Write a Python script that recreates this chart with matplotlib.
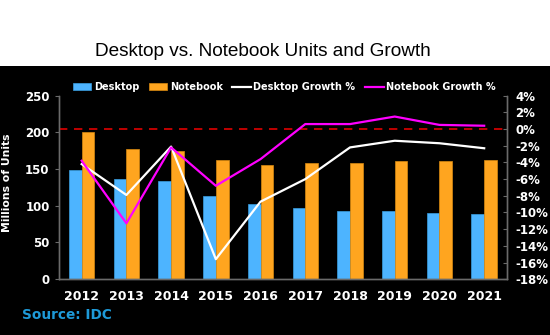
import matplotlib
matplotlib.use("Agg")
import matplotlib.pyplot as plt
import numpy as np
from matplotlib.patches import Rectangle
from matplotlib.ticker import FuncFormatter

years = ["2012", "2013", "2014", "2015", "2016", "2017", "2018", "2019", "2020", "2021"]
desktop_units = [149, 136.5, 134, 113, 103, 96.5, 93.5, 92.5, 90.5, 89]
notebook_units = [201, 178, 174, 162, 156, 158, 158.5, 160.5, 161.5, 162.5]
desktop_growth = [-4.2, -7.9, -2.1, -15.6, -8.7, -6.0, -2.2, -1.4, -1.7, -2.3]
notebook_growth = [-3.8, -11.3, -2.2, -6.8, -3.6, 0.6, 0.6, 1.5, 0.5, 0.4]

BLUE = "#4db4ff"
ORANGE = "#ffa51f"
MAGENTA = "#ff00ff"
AXIS = "#6a6a6a"

fig = plt.figure(figsize=(5.5, 3.35), dpi=100)
fig.patch.set_facecolor("white")
# black panel behind the chart, white strip above it for the title
fig.add_artist(Rectangle((0, 0), 1, 269 / 335, transform=fig.transFigure,
                         facecolor="black", edgecolor="none", zorder=-10))

fig.text(262.7 / 550, 1 - 51.5 / 335, "Desktop vs. Notebook Units and Growth",
         ha="center", va="center", fontsize=13.7, family="Liberation Sans", color="black")

ax = fig.add_axes([0.1078, 0.1666, 0.921 - 0.1078, 0.7143 - 0.1666])
ax.set_facecolor("none")
x = np.arange(len(years))
w = 0.285
b1 = ax.bar(x - w / 2, desktop_units, w, color=BLUE, edgecolor="#3a9ee0", lw=0.5,
            label="Desktop", zorder=2)
b2 = ax.bar(x + w / 2, notebook_units, w, color=ORANGE, edgecolor="#d98a10", lw=0.5,
            label="Notebook", zorder=2)
ax.set_xlim(-0.5, len(years) - 0.5)
ax.set_ylim(0, 250)
ax.set_yticks(range(0, 251, 50))
ax.set_xticks(x)
ax.set_xticklabels(years)
ax.set_ylabel("Millions of Units", color="white", fontweight="bold", fontsize=7.8)
ax.yaxis.set_label_coords(-0.105, 0.523)

ax2 = ax.twinx()
l1, = ax2.plot(x, desktop_growth, color="white", lw=1.6, label="Desktop Growth %", zorder=3)
l2, = ax2.plot(x, notebook_growth, color=MAGENTA, lw=1.6, label="Notebook Growth %", zorder=3)
ax2.axhline(0, color="#e00000", lw=1.2, ls=(0, (5, 4)), zorder=1)
ax2.set_ylim(-18, 4)
ax2.set_yticks(range(-18, 5, 2))
ax2.yaxis.set_major_formatter(FuncFormatter(lambda v, p: f"{v:.0f}%"))

for a in (ax, ax2):
    a.spines["top"].set_visible(False)
    for s in ("left", "right", "bottom"):
        a.spines[s].set_color(AXIS)
        a.spines[s].set_linewidth(1.0)
    a.tick_params(colors=AXIS, labelcolor="white", labelsize=8.5, length=3, width=0.8)
    for lab in a.get_xticklabels() + a.get_yticklabels():
        lab.set_fontweight("bold")
ax.tick_params(axis="x", length=0, pad=7.5, labelsize=9)
ax.tick_params(axis="y", pad=4)
ax2.tick_params(axis="y", direction="in", pad=6.5)

leg = ax.legend([b1, b2, l1, l2], ["Desktop", "Notebook", "Desktop Growth %", "Notebook Growth %"],
                loc="center", bbox_to_anchor=(0.503, 1.046), ncol=4, frameon=False,
                handlelength=1.9, handleheight=0.7, handletextpad=0.25,
                columnspacing=1.0, borderpad=0, prop={"weight": "bold", "size": 7})
for t in leg.get_texts():
    t.set_color("white")

fig.text(22 / 550, 1 - 315 / 335, "Source: IDC", color="#1e9ad8", fontsize=9.8,
         fontweight="bold", va="center", ha="left")

fig.savefig("out.png", dpi=100, facecolor=fig.get_facecolor())
